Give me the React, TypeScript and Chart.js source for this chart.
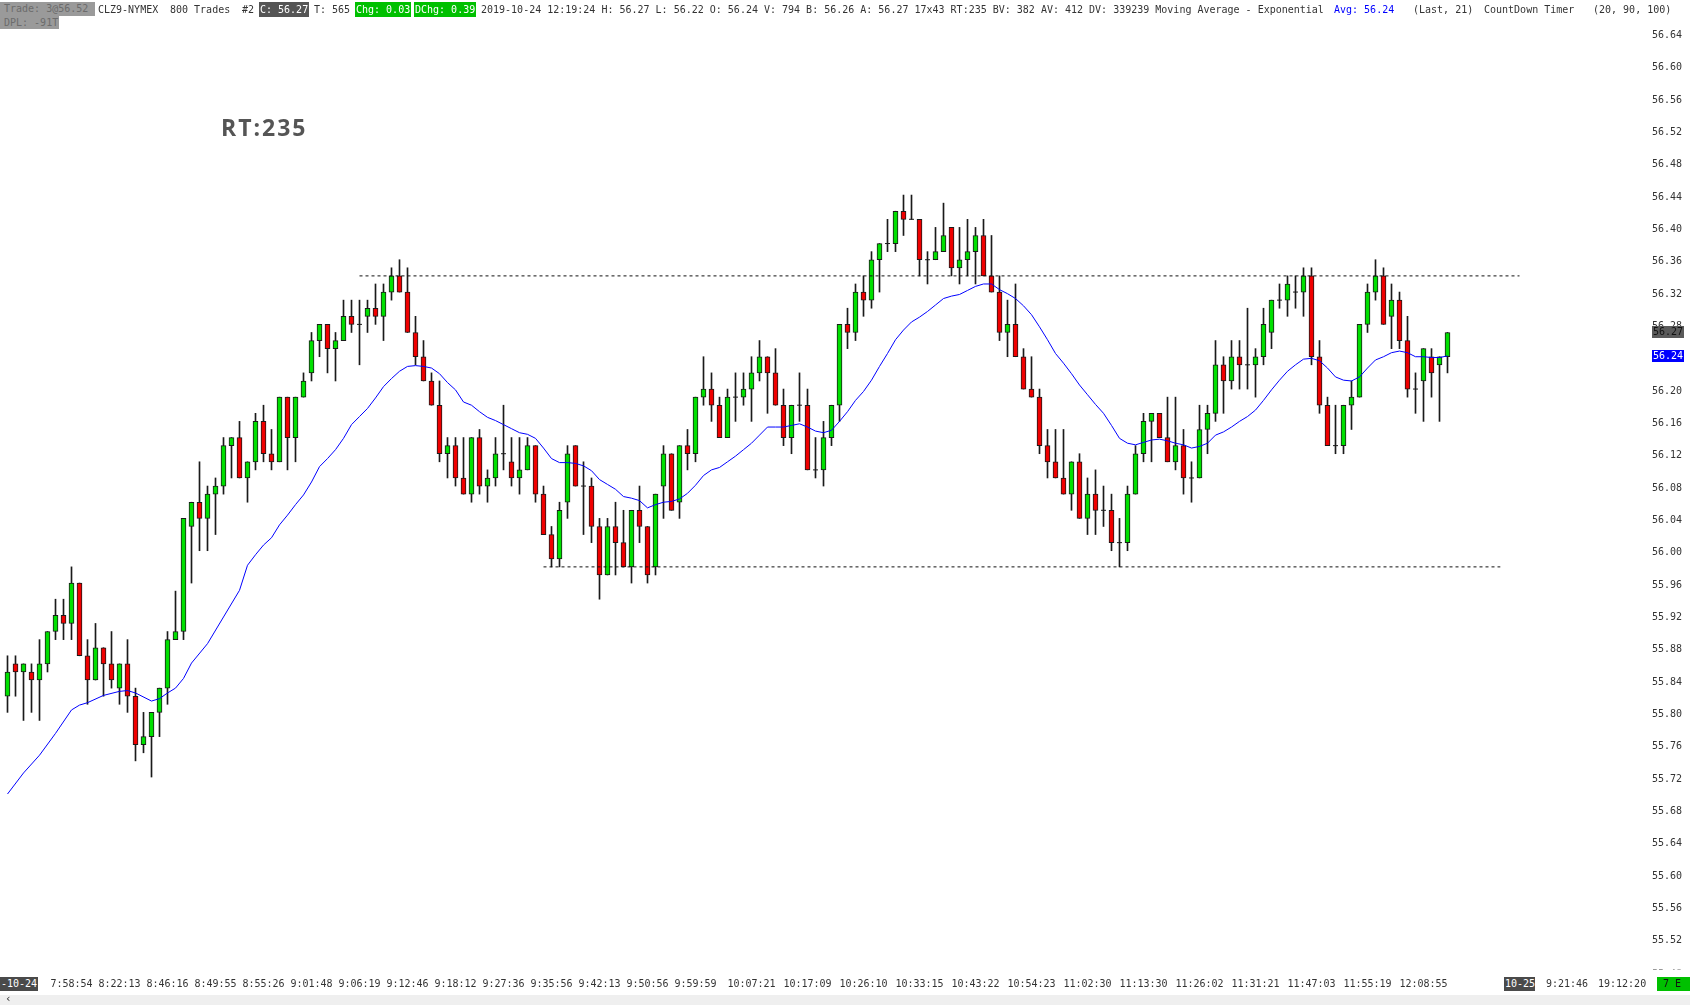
import { useEffect, useRef } from 'react';
import Chart from 'chart.js/auto';

// OHLC per bar (bar 1 = leftmost)
const opens = [
  55.82, 55.86, 55.85, 55.85, 55.84, 55.86, 55.90, 55.92, 55.91, 55.96,
  55.87, 55.84, 55.88, 55.86, 55.83, 55.86, 55.82, 55.76, 55.77, 55.80,
  55.83, 55.89, 55.90, 56.03, 56.06, 56.04, 56.07, 56.08, 56.13, 56.14,
  56.09, 56.11, 56.16, 56.12, 56.11, 56.19, 56.14, 56.19, 56.22, 56.26,
  56.28, 56.25, 56.26, 56.29, 56.28, 56.29, 56.30, 56.29, 56.32, 56.34,
  56.32, 56.27, 56.24, 56.21, 56.18, 56.12, 56.13, 56.09, 56.07, 56.14,
  56.08, 56.09, 56.12, 56.11, 56.09, 56.10, 56.13, 56.07, 56.02, 55.99,
  56.06, 56.13, 56.08, 56.08, 56.03, 55.97, 56.03, 56.01, 55.98, 56.05,
  56.03, 55.98, 56.08, 56.12, 56.06, 56.13, 56.12, 56.19, 56.20, 56.18,
  56.14, 56.19, 56.19, 56.20, 56.22, 56.24, 56.22, 56.18, 56.14, 56.18,
  56.18, 56.10, 56.10, 56.14, 56.18, 56.28, 56.27, 56.32, 56.31, 56.36,
  56.38, 56.38, 56.42, 56.41, 56.41, 56.36, 56.36, 56.37, 56.40, 56.35,
  56.36, 56.37, 56.39, 56.34, 56.32, 56.27, 56.28, 56.24, 56.20, 56.19,
  56.13, 56.11, 56.09, 56.07, 56.11, 56.04, 56.07, 56.05, 56.05, 56.01,
  56.01, 56.07, 56.12, 56.16, 56.17, 56.14, 56.11, 56.13, 56.09, 56.09,
  56.15, 56.17, 56.23, 56.21, 56.24, 56.23, 56.23, 56.24, 56.27, 56.31,
  56.31, 56.32, 56.32, 56.34, 56.24, 56.18, 56.13, 56.13, 56.18, 56.19,
  56.28, 56.32, 56.34, 56.29, 56.31, 56.26, 56.20, 56.21, 56.24, 56.23,
  56.24,
];
const highs = [
  55.87, 55.87, 55.86, 55.86, 55.89, 55.90, 55.94, 55.94, 55.98, 55.96,
  55.89, 55.91, 55.88, 55.90, 55.86, 55.89, 55.83, 55.80, 55.80, 55.83,
  55.90, 55.95, 56.04, 56.06, 56.11, 56.08, 56.09, 56.14, 56.14, 56.16,
  56.11, 56.17, 56.18, 56.15, 56.19, 56.19, 56.19, 56.22, 56.27, 56.28,
  56.28, 56.27, 56.31, 56.31, 56.31, 56.31, 56.33, 56.33, 56.35, 56.36,
  56.35, 56.29, 56.26, 56.22, 56.21, 56.14, 56.14, 56.14, 56.14, 56.15,
  56.10, 56.14, 56.18, 56.14, 56.14, 56.14, 56.13, 56.08, 56.03, 56.06,
  56.13, 56.13, 56.11, 56.09, 56.04, 56.04, 56.06, 56.05, 56.05, 56.08,
  56.03, 56.07, 56.13, 56.12, 56.13, 56.15, 56.19, 56.24, 56.22, 56.19,
  56.20, 56.22, 56.22, 56.24, 56.26, 56.24, 56.25, 56.20, 56.18, 56.22,
  56.20, 56.14, 56.16, 56.18, 56.28, 56.30, 56.33, 56.34, 56.37, 56.38,
  56.41, 56.42, 56.44, 56.44, 56.41, 56.37, 56.40, 56.43, 56.40, 56.40,
  56.41, 56.40, 56.41, 56.39, 56.34, 56.31, 56.33, 56.25, 56.24, 56.20,
  56.15, 56.15, 56.15, 56.11, 56.12, 56.09, 56.10, 56.08, 56.07, 56.04,
  56.08, 56.13, 56.17, 56.17, 56.17, 56.19, 56.19, 56.15, 56.11, 56.18,
  56.18, 56.26, 56.24, 56.26, 56.26, 56.30, 56.25, 56.30, 56.31, 56.33,
  56.34, 56.34, 56.35, 56.35, 56.26, 56.19, 56.18, 56.18, 56.21, 56.28,
  56.33, 56.36, 56.35, 56.33, 56.32, 56.29, 56.22, 56.25, 56.25, 56.24,
  56.27,
];
const lows = [
  55.80, 55.82, 55.79, 55.80, 55.79, 55.85, 55.89, 55.89, 55.89, 55.87,
  55.81, 55.84, 55.82, 55.83, 55.81, 55.80, 55.74, 55.75, 55.72, 55.77,
  55.81, 55.89, 55.89, 55.96, 56.00, 56.00, 56.02, 56.07, 56.09, 56.09,
  56.06, 56.10, 56.11, 56.10, 56.11, 56.10, 56.11, 56.19, 56.21, 56.24,
  56.22, 56.21, 56.26, 56.27, 56.23, 56.27, 56.28, 56.26, 56.31, 56.32,
  56.27, 56.23, 56.21, 56.18, 56.11, 56.09, 56.08, 56.07, 56.06, 56.07,
  56.06, 56.08, 56.10, 56.08, 56.07, 56.10, 56.06, 56.02, 55.98, 55.98,
  56.04, 56.08, 56.02, 56.01, 55.94, 55.97, 55.97, 55.98, 55.96, 56.01,
  55.96, 55.97, 56.04, 56.05, 56.04, 56.10, 56.11, 56.18, 56.16, 56.14,
  56.14, 56.16, 56.18, 56.16, 56.21, 56.17, 56.18, 56.13, 56.12, 56.16,
  56.10, 56.09, 56.08, 56.13, 56.16, 56.25, 56.26, 56.29, 56.30, 56.32,
  56.37, 56.37, 56.39, 56.41, 56.34, 56.33, 56.36, 56.37, 56.34, 56.33,
  56.34, 56.33, 56.34, 56.32, 56.26, 56.24, 56.24, 56.20, 56.19, 56.12,
  56.09, 56.09, 56.07, 56.05, 56.04, 56.02, 56.02, 56.03, 56.00, 55.98,
  56.00, 56.07, 56.11, 56.11, 56.14, 56.11, 56.10, 56.07, 56.06, 56.09,
  56.12, 56.16, 56.17, 56.20, 56.20, 56.20, 56.19, 56.23, 56.25, 56.30,
  56.29, 56.30, 56.29, 56.23, 56.17, 56.13, 56.12, 56.12, 56.15, 56.19,
  56.27, 56.31, 56.28, 56.25, 56.25, 56.19, 56.17, 56.16, 56.19, 56.16,
  56.22,
];
const closes = [
  55.85, 55.85, 55.86, 55.84, 55.86, 55.90, 55.92, 55.91, 55.96, 55.87,
  55.84, 55.88, 55.86, 55.84, 55.86, 55.82, 55.76, 55.77, 55.80, 55.83,
  55.89, 55.90, 56.04, 56.06, 56.04, 56.07, 56.08, 56.13, 56.14, 56.09,
  56.11, 56.16, 56.12, 56.11, 56.19, 56.14, 56.19, 56.21, 56.26, 56.28,
  56.25, 56.26, 56.29, 56.28, 56.28, 56.30, 56.29, 56.32, 56.34, 56.32,
  56.27, 56.24, 56.21, 56.18, 56.12, 56.13, 56.09, 56.07, 56.14, 56.08,
  56.09, 56.12, 56.12, 56.09, 56.10, 56.13, 56.07, 56.02, 55.99, 56.05,
  56.12, 56.08, 56.08, 56.03, 55.97, 56.03, 56.01, 55.98, 56.05, 56.03,
  55.97, 56.07, 56.12, 56.05, 56.13, 56.12, 56.19, 56.20, 56.18, 56.14,
  56.19, 56.19, 56.20, 56.22, 56.24, 56.22, 56.18, 56.14, 56.18, 56.18,
  56.10, 56.10, 56.14, 56.18, 56.28, 56.27, 56.32, 56.31, 56.36, 56.38,
  56.38, 56.42, 56.41, 56.41, 56.36, 56.36, 56.37, 56.39, 56.35, 56.36,
  56.37, 56.39, 56.34, 56.32, 56.27, 56.28, 56.24, 56.20, 56.19, 56.13,
  56.11, 56.09, 56.07, 56.11, 56.04, 56.07, 56.05, 56.05, 56.01, 56.01,
  56.07, 56.12, 56.16, 56.17, 56.14, 56.11, 56.13, 56.09, 56.09, 56.15,
  56.17, 56.23, 56.21, 56.24, 56.23, 56.23, 56.24, 56.28, 56.31, 56.31,
  56.33, 56.32, 56.34, 56.24, 56.18, 56.13, 56.13, 56.18, 56.19, 56.28,
  56.32, 56.34, 56.28, 56.31, 56.26, 56.20, 56.20, 56.25, 56.22, 56.24,
  56.27,
];

// exponential moving average (Last, 21) as drawn; null where not read
const emaValues = [
  55.699, null, 55.725, null, 55.747, null, 55.774, null, 55.803, 55.809,
  55.812, null, 55.821, null, 55.826, 55.827, 55.824, null, 55.814, 55.817,
  55.824, 55.830, 55.842, 55.861, null, 55.885, null, 55.918, null, 55.951,
  55.982, 55.995, 56.007, 56.016, 56.032, 56.044, 56.057, 56.069, 56.085, 56.104,
  56.114, 56.125, 56.139, 56.156, 56.166, 56.176, 56.189, 56.203, 56.213, 56.222,
  56.228, 56.229, 56.228, 56.226, 56.219, 56.208, 56.199, 56.184, 56.180, 56.172,
  56.165, 56.161, 56.156, 56.151, 56.146, 56.144, 56.139, 56.127, 56.114, 56.109,
  56.109, 56.108, 56.105, 56.099, 56.088, 56.082, 56.076, 56.067, 56.065, 56.062,
  56.053, 56.057, 56.060, 56.061, 56.064, 56.071, 56.081, 56.093, 56.100, 56.103,
  56.110, 56.117, 56.125, 56.133, 56.143, 56.153, 56.153, 56.153, 56.155, 56.157,
  56.153, 56.148, 56.146, 56.149, 56.160, 56.172, 56.186, 56.197, 56.211, 56.228,
  56.244, 56.261, 56.273, 56.283, 56.289, 56.296, 56.304, 56.312, 56.315, 56.317,
  56.322, 56.327, 56.330, 56.330, 56.323, 56.318, 56.312, 56.303, 56.292, 56.277,
  56.261, 56.244, 56.232, 56.219, 56.205, 56.193, 56.181, 56.170, 56.155, 56.139,
  56.133, 56.131, 56.134, 56.137, 56.138, 56.136, 56.133, 56.131, 56.127, 56.129,
  56.133, 56.143, 56.147, 56.153, 56.160, 56.166, 56.174, 56.186, 56.199, 56.211,
  56.222, 56.230, 56.237, 56.238, 56.235, 56.226, 56.215, 56.211, 56.210, 56.215,
  56.226, 56.236, 56.240, 56.245, 56.247, 56.245, 56.240, 56.240, 56.239, 56.239,
  56.241,
];

const axisTimes = [
  '7:58:54', '8:22:13', '8:46:16', '8:49:55', '8:55:26', '9:01:48', '9:06:19',
  '9:12:46', '9:18:12', '9:27:36', '9:35:56', '9:42:13', '9:50:56', '9:59:59',
  '10:07:21', '10:17:09', '10:26:10', '10:33:15', '10:43:22', '10:54:23',
  '11:02:30', '11:13:30', '11:26:02', '11:31:21', '11:47:03', '11:55:19', '12:08:55',
];
const axisTimeBars = [
  9, 15, 21, 27, 33, 39, 45, 51, 57, 63, 69, 75, 81, 87,
  94, 101, 108, 115, 122, 129, 136, 143, 150, 157, 164, 171, 178,
];

// horizontal drawn levels (dashed)
const levelPrices = [56.34, 55.98];
const levelStartBars = [45, 68];
const levelEndBars = [190, 187.6];

const MONO = '"DejaVu Sans Mono", "Liberation Mono", monospace';
const GREEN = '#00e000';
const RED = '#f00000';
const EDGE = '#1a1a1a';

const priceBadges = {
  id: 'priceBadges',
  afterDraw(chart: any) {
    const { ctx } = chart;
    const y = chart.scales.y;
    const left = y.left + 6;
    ctx.save();
    ctx.font = `10px ${MONO}`;
    ctx.textBaseline = 'middle';
    // tick just under the plot bottom, mostly hidden
    const below = Math.floor(y.min / 0.04) * 0.04;
    ctx.save();
    ctx.beginPath();
    ctx.rect(y.left, y.bottom - 6, 50, 7.5);
    ctx.clip();
    ctx.fillStyle = '#333';
    ctx.fillText(below.toFixed(2), left, y.getPixelForValue(below) + 3);
    ctx.restore();

    const badge = (value: number, bg: string, fg: string) => {
      const py = Math.round(y.getPixelForValue(value));
      ctx.fillStyle = bg;
      ctx.fillRect(left, py - 6, 32, 12);
      ctx.fillStyle = fg;
      ctx.fillText(value.toFixed(2), left + 1, py + 0.5);
    };
    badge(closes[closes.length - 1], '#5a5a5a', '#111');
    badge(emaValues[emaValues.length - 1] as number, '#0000ff', '#ffffff');
    ctx.restore();
  },
};

function Tag(props: { x: number; y: number; w: number; h?: number; bg: string; color: string; pad?: number; children: any }) {
  return (
    <div
      style={{
        position: 'absolute',
        left: props.x,
        top: props.y,
        width: props.w,
        height: props.h ?? 14,
        background: props.bg,
        color: props.color,
        paddingLeft: props.pad ?? 1,
        boxSizing: 'border-box',
        lineHeight: `${props.h ?? 14}px`,
        whiteSpace: 'nowrap',
        overflow: 'hidden',
      }}
    >
      {props.children}
    </div>
  );
}

function Txt(props: { x: number; y: number; color?: string; children: any }) {
  return (
    <div
      style={{
        position: 'absolute',
        left: props.x,
        top: props.y,
        height: 14,
        lineHeight: '14px',
        color: props.color ?? '#333',
        whiteSpace: 'nowrap',
      }}
    >
      {props.children}
    </div>
  );
}

export default function App() {
  const canvasRef = useRef<HTMLCanvasElement | null>(null);
  const chartRef = useRef<Chart | null>(null);

  useEffect(() => {
    const canvas = canvasRef.current;
    if (!canvas) return;
    if (chartRef.current) {
      chartRef.current.destroy();
      chartRef.current = null;
    }

    const bars = closes.map((_, i) => i + 1);
    const bodyColors = closes.map((c, i) => (c >= opens[i] ? GREEN : RED));
    const dojis = bars
      .filter((b) => opens[b - 1] === closes[b - 1])
      .map((b) => ({ x: b, y: closes[b - 1] }));

    const levelSets = levelPrices.map((p, k) => ({
      type: 'line' as const,
      data: [
        { x: levelStartBars[k], y: p },
        { x: levelEndBars[k], y: p },
      ],
      borderColor: '#111',
      borderWidth: 1,
      borderDash: [3, 3],
      pointRadius: 0,
      order: 0,
    }));

    chartRef.current = new Chart(canvas, {
      type: 'bar',
      data: {
        datasets: [
          {
            type: 'line',
            label: 'EMA 21',
            data: bars.map((b) => ({ x: b, y: emaValues[b - 1] })),
            borderColor: '#0000ff',
            borderWidth: 1,
            pointRadius: 0,
            spanGaps: true,
            tension: 0,
            order: 0,
          },
          ...levelSets,
          {
            type: 'line',
            label: 'doji',
            data: dojis,
            showLine: false,
            pointStyle: 'line',
            pointRadius: 2.5,
            pointBorderColor: EDGE,
            pointBorderWidth: 1,
            order: 1,
          },
          {
            label: 'body',
            data: bars.map((b) => ({ x: b, y: [opens[b - 1], closes[b - 1]] })),
            backgroundColor: bodyColors,
            borderColor: EDGE,
            borderWidth: 1,
            borderSkipped: false,
            barThickness: 5,
            grouped: false,
            order: 1,
          },
          {
            label: 'wick',
            data: bars.map((b) => ({ x: b, y: [lows[b - 1], highs[b - 1]] })),
            backgroundColor: EDGE,
            borderWidth: 0,
            barThickness: 1,
            grouped: false,
            order: 2,
          },
        ] as any,
      },
      options: {
        animation: false,
        responsive: false,
        devicePixelRatio: 1,
        layout: { autoPadding: false, padding: { top: 2, left: 0, right: 0, bottom: 0 } },
        plugins: { legend: { display: false }, tooltip: { enabled: false } },
        scales: {
          x: {
            type: 'linear',
            min: 0.0625,
            max: 0.0625 + 1646 / 8,
            offset: false,
            grid: { display: false, drawTicks: false },
            border: { display: false },
            afterBuildTicks: (scale: any) => {
              scale.ticks = axisTimeBars.map((v) => ({ value: v }));
            },
            afterFit: (scale: any) => {
              scale.height = 37;
              scale.paddingLeft = 0;
              scale.paddingRight = 0;
            },
            ticks: {
              autoSkip: false,
              maxRotation: 0,
              minRotation: 0,
              padding: 10,
              color: '#333',
              font: { family: MONO, size: 10 },
              callback: (_v: any, i: number) => axisTimes[i] ?? '',
            },
          },
          y: {
            type: 'linear',
            position: 'right',
            min: 56.64 - (968 - 33.4) / 808.3,
            max: 56.64 + (33.4 - 2) / 808.3,
            grid: { display: false, drawTicks: false },
            border: { display: false },
            afterFit: (scale: any) => {
              scale.width = 44;
              scale.paddingTop = 0;
              scale.paddingBottom = 0;
            },
            ticks: {
              stepSize: 0.04,
              includeBounds: false,
              padding: 6,
              labelOffset: 2,
              color: '#333',
              font: { family: MONO, size: 10 },
              callback: (v: any) => Number(v).toFixed(2),
            },
          },
        },
      } as any,
      plugins: [priceBadges],
    });

    return () => {
      if (chartRef.current) {
        chartRef.current.destroy();
        chartRef.current = null;
      }
    };
  }, []);

  return (
    <div
      style={{
        position: 'fixed',
        left: 0,
        top: 0,
        width: 1690,
        height: 1005,
        overflow: 'hidden',
        background: '#fff',
        fontFamily: MONO,
        fontSize: 10,
      }}
    >
      <canvas ref={canvasRef} width={1690} height={1005} style={{ position: 'absolute', left: 0, top: 0 }} />

      {/* header */}
      <Tag x={0} y={2} w={95} bg="#9a9a9a" color="#6c6c6c" pad={4}>Trade: 3@56.52</Tag>
      <Tag x={0} y={16} w={59} h={13} bg="#9a9a9a" color="#6c6c6c" pad={4}>DPL: -91T</Tag>
      <Txt x={98} y={3}>CLZ9-NYMEX</Txt>
      <Txt x={170} y={3}>800 Trades</Txt>
      <Txt x={242} y={3}>#2</Txt>
      <Tag x={259} y={2} w={50} h={15} bg="#555555" color="#ffffff">C: 56.27</Tag>
      <Txt x={314} y={3}>T: 565</Txt>
      <Tag x={355} y={2} w={56} h={15} bg="#00c000" color="#ffffff">Chg: 0.03</Tag>
      <Tag x={414} y={2} w={62} h={15} bg="#00c000" color="#ffffff">DChg: 0.39</Tag>
      <Txt x={481} y={3}>
        2019-10-24 12:19:24 H: 56.27 L: 56.22 O: 56.24 V: 794 B: 56.26 A: 56.27 17x43 RT:235 BV: 382 AV: 412 DV: 339239 Moving Average - Exponential
      </Txt>
      <Txt x={1334} y={3} color="#0000ff">Avg: 56.24</Txt>
      <Txt x={1413} y={3}>(Last, 21)</Txt>
      <Txt x={1484} y={3}>CountDown Timer</Txt>
      <Txt x={1593} y={3}>(20, 90, 100)</Txt>

      <div
        style={{
          position: 'absolute',
          left: 221,
          top: 116,
          fontFamily: '"Open Sans", "DejaVu Sans", sans-serif',
          fontWeight: 700,
          fontSize: 23,
          lineHeight: '23px',
          letterSpacing: 2,
          color: '#555',
          whiteSpace: 'nowrap',
        }}
      >
        RT:235
      </div>

      {/* bottom strip */}
      <Tag x={0} y={977} w={38} bg="#4a4a4a" color="#ffffff" pad={1}>-10-24</Tag>
      <Tag x={1504} y={977} w={31} bg="#4a4a4a" color="#ffffff" pad={1}>10-25</Tag>
      <Txt x={1546} y={977}>9:21:46</Txt>
      <Txt x={1598} y={977}>19:12:20</Txt>
      <Tag x={1657} y={977} w={33} bg="#00c000" color="#111" pad={6}>7 E</Tag>
      <div style={{ position: 'absolute', left: 0, top: 995, width: 1690, height: 10, background: '#efefef' }} />
      <div style={{ position: 'absolute', left: 5, top: 993, lineHeight: '12px', fontSize: 11, color: '#333' }}>‹</div>
    </div>
  );
}
